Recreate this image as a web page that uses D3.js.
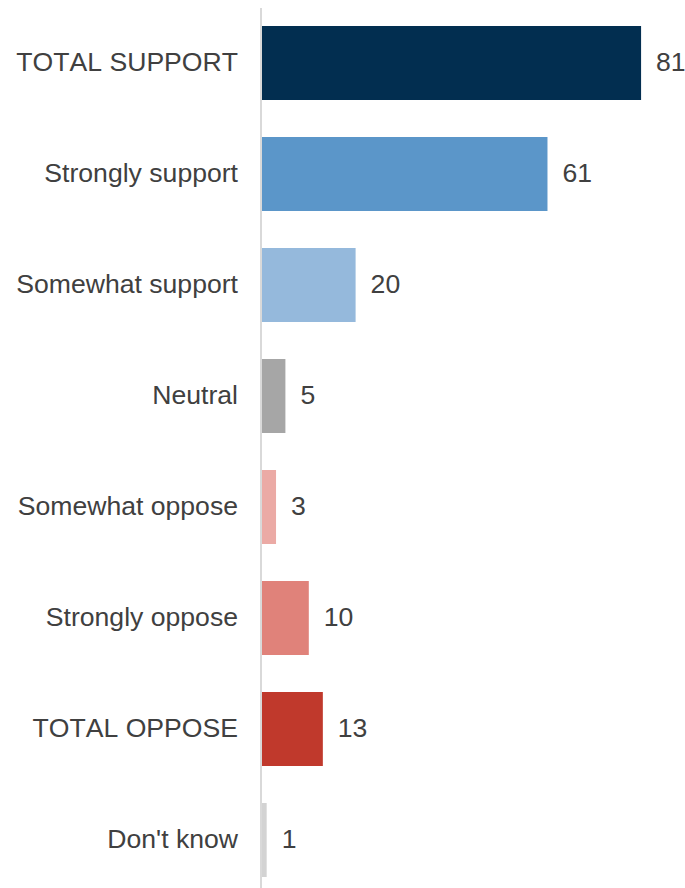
<!DOCTYPE html>
<html>
<head>
<meta charset="utf-8">
<script src="https://cdn.jsdelivr.net/npm/d3@7"></script>
<style>
  html, body { margin: 0; padding: 0; background: #ffffff; }
  svg { display: block; }
  text { font-kerning: none; }
</style>
</head>
<body>
<svg id="chart" width="685" height="888"></svg>
<script>
const categories = ["TOTAL SUPPORT", "Strongly support", "Somewhat support", "Neutral", "Somewhat oppose", "Strongly oppose", "TOTAL OPPOSE", "Don't know"];
const values = [81, 61, 20, 5, 3, 10, 13, 1];
const colors = ["#022e50", "#5b96c9", "#95b9dc", "#a6a6a6", "#ebaaa5", "#e0827a", "#c0392c", "#d3d3d3"];

const svg = d3.select("#chart");
const x = d3.scaleLinear().domain([0, 100]).range([262, 730]);
const y = d3.scaleBand().domain(categories).range([7.5, 895.5]).paddingInner(1/3).paddingOuter(1/6);

const font = "'Liberation Sans', Arial, sans-serif";

svg.selectAll("rect.bar")
  .data(categories)
  .enter().append("rect")
  .attr("class", "bar")
  .attr("x", x(0))
  .attr("y", d => y(d))
  .attr("width", (d, i) => x(values[i]) - x(0))
  .attr("height", y.bandwidth())
  .attr("fill", (d, i) => colors[i]);

// axis line
svg.append("line")
  .attr("x1", 261).attr("x2", 261)
  .attr("y1", 8).attr("y2", 888)
  .attr("stroke", "#d9d9d9").attr("stroke-width", 2);

svg.selectAll("text.cat")
  .data(categories)
  .enter().append("text")
  .attr("class", "cat")
  .attr("x", 238)
  .attr("y", d => y(d) + y.bandwidth() / 2)
  .attr("dy", "0.3em")
  .attr("text-anchor", "end")
  .attr("font-family", font)
  .attr("font-size", 26.6)
  .attr("fill", "#404040")
  .text(d => d);

svg.selectAll("text.val")
  .data(categories)
  .enter().append("text")
  .attr("class", "val")
  .attr("x", (d, i) => x(values[i]) + 15)
  .attr("y", d => y(d) + y.bandwidth() / 2)
  .attr("dy", "0.3em")
  .attr("font-family", font)
  .attr("font-size", 26.6)
  .attr("fill", "#404040")
  .text((d, i) => values[i]);
</script>
</body>
</html>
